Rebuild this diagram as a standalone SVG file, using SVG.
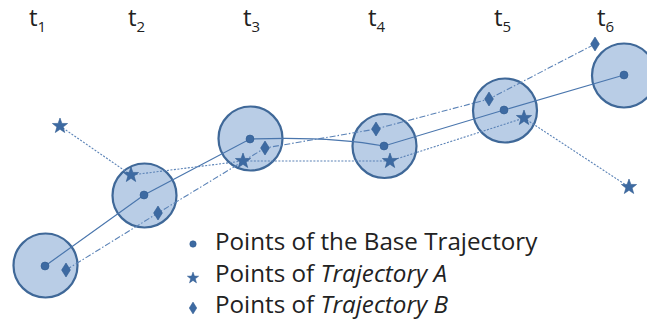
<svg xmlns="http://www.w3.org/2000/svg" width="647" height="329" viewBox="0 0 647 329">
<style>
.ring{fill:#b9cde6;stroke:#3f6898;stroke-width:2.2}
.mk{fill:#3d6aa2;stroke:#2f5a90;stroke-width:0.6}
.base{fill:none;stroke:#4a76ad;stroke-width:1.2}
.ta{fill:none;stroke:#5a82b6;stroke-width:1.1;stroke-dasharray:2 1.5}
.tb{fill:none;stroke:#5a82b6;stroke-width:1.1;stroke-dasharray:6 2 1.5 2}
.lbl{font-family:"Open Sans","Noto Sans","Liberation Sans",sans-serif;fill:#222}
</style>
<defs>
<path id="star" d="M0,-8 L1.9,-2.6 L7.6,-2.5 L3.1,1 L4.7,6.5 L0,3.3 L-4.7,6.5 L-3.1,1 L-7.6,-2.5 L-1.9,-2.6 Z"/>
<path id="dia" d="M0,-7 L4.4,0 L0,7 L-4.4,0 Z"/>
</defs>
<g id="labels" class="lbl">
<text x="29" y="26" font-size="24">t<tspan font-size="15" dy="6">1</tspan></text>
<text x="128" y="26" font-size="24">t<tspan font-size="15" dy="6">2</tspan></text>
<text x="243" y="26" font-size="24">t<tspan font-size="15" dy="6">3</tspan></text>
<text x="368" y="26" font-size="24">t<tspan font-size="15" dy="6">4</tspan></text>
<text x="494" y="26" font-size="24">t<tspan font-size="15" dy="6">5</tspan></text>
<text x="597" y="26" font-size="24">t<tspan font-size="15" dy="6">6</tspan></text>
</g>
<g id="n1"><circle class="ring" cx="45.5" cy="265.5" r="32"/></g>
<g id="n2"><circle class="ring" cx="144.5" cy="195.5" r="32"/></g>
<g id="n3"><circle class="ring" cx="250.5" cy="138.5" r="32"/></g>
<g id="n4"><circle class="ring" cx="384.5" cy="146" r="32"/></g>
<g id="n5"><circle class="ring" cx="505" cy="110.5" r="32"/></g>
<g id="n6"><circle class="ring" cx="624" cy="75.5" r="32"/></g>
<g id="connectors">
<path class="base" d="M45,266 L144,195 L250,139 Q330,136 384,146 L504,110 L624,75"/>
<path class="ta" d="M60,126 L131,175 L243,161 L390,161 L524,118 L629,187"/>
<path class="tb" d="M66,270 L158,213 L265,148 L376,129 L489,99 L595,44"/>
</g>
<g id="points">
<circle class="mk" cx="45" cy="266" r="4"/>
<circle class="mk" cx="144" cy="195" r="4"/>
<circle class="mk" cx="250" cy="139" r="4"/>
<circle class="mk" cx="384" cy="146" r="4"/>
<circle class="mk" cx="504" cy="110" r="4"/>
<circle class="mk" cx="624" cy="75" r="4"/>
<use href="#star" class="mk" x="60" y="126"/>
<use href="#star" class="mk" x="131" y="175"/>
<use href="#star" class="mk" x="243" y="161"/>
<use href="#star" class="mk" x="390" y="161"/>
<use href="#star" class="mk" x="524" y="118"/>
<use href="#star" class="mk" x="629" y="187"/>
<use href="#dia" class="mk" x="66" y="270"/>
<use href="#dia" class="mk" x="158" y="213"/>
<use href="#dia" class="mk" x="265" y="148"/>
<use href="#dia" class="mk" x="376" y="129"/>
<use href="#dia" class="mk" x="489" y="99"/>
<use href="#dia" class="mk" x="595" y="44"/>
</g>
<g id="legend" class="lbl" font-size="24.2">
<circle class="mk" cx="193" cy="244" r="3.2"/>
<use href="#star" class="mk" transform="translate(193,278) scale(0.75)"/>
<use href="#dia" class="mk" transform="translate(193,308) scale(0.85)"/>
<text x="215" y="250">Points of the Base Trajectory</text>
<text x="215" y="282">Points of <tspan font-style="italic">Trajectory A</tspan></text>
<text x="215" y="313">Points of <tspan font-style="italic">Trajectory B</tspan></text>
</g>
</svg>
